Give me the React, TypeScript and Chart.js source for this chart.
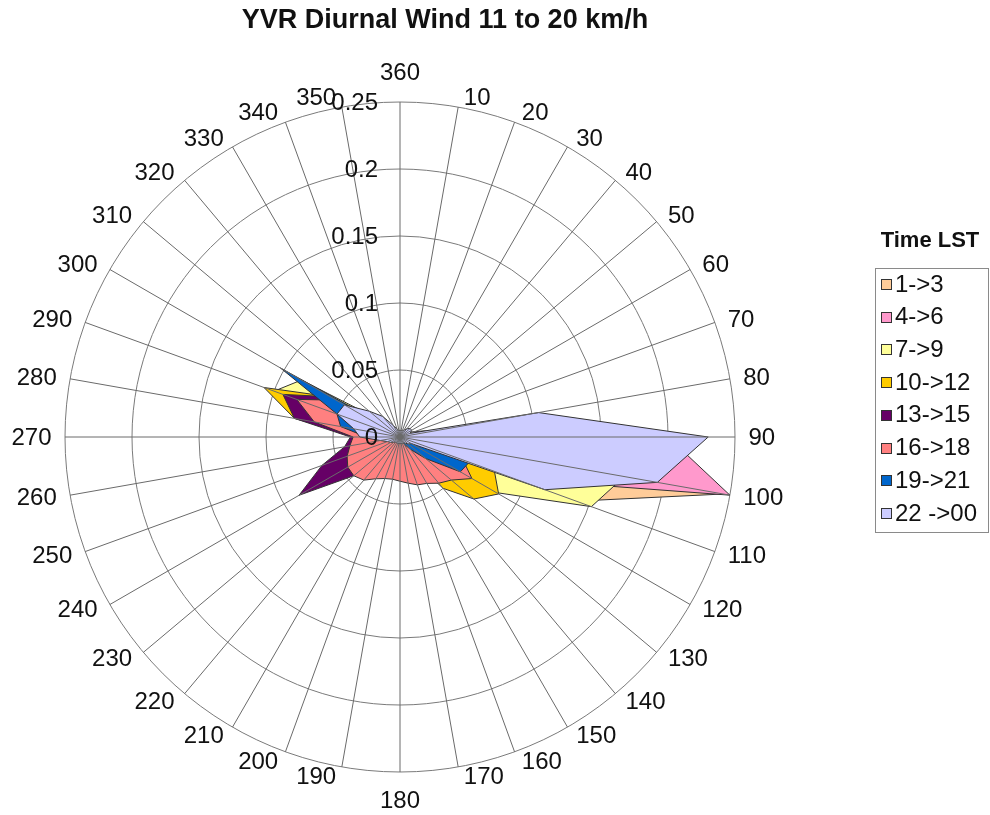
import React, { useEffect, useRef } from 'react';
import { Chart, registerables } from 'chart.js';

Chart.register(...registerables);

const chartTitle = 'YVR Diurnal Wind 11 to 20 km/h';
const legendTitle = 'Time LST';

const directionLabels = [
  '360', '10', '20', '30', '40', '50', '60', '70', '80', '90', '100', '110',
  '120', '130', '140', '150', '160', '170', '180', '190', '200', '210', '220', '230',
  '240', '250', '260', '270', '280', '290', '300', '310', '320', '330', '340', '350',
];

const tickValues = [0, 0.05, 0.1, 0.15, 0.2, 0.25];
const tickLabels = ['0', '0.05', '0.1', '0.15', '0.2', '0.25'];

const seriesNames = ['1->3', '4->6', '7->9', '10->12', '13->15', '16->18', '19->21', '22 ->00'];
const seriesColors = ['#FFCC99', '#FF99CC', '#FFFF99', '#FFCC00', '#660066', '#FF8080', '#0066CC', '#CCCCFF'];

// values per direction: 360, 10, 20, ... 350
const t01to03 = [0.003, 0.003, 0.003, 0.003, 0.003, 0.004, 0.005, 0.01, 0.03, 0.13, 0.245, 0.14,
  0.04, 0.02, 0.01, 0.005, 0.004, 0.003, 0.003, 0.003, 0.003, 0.003, 0.003, 0.003,
  0.003, 0.004, 0.006, 0.01, 0.015, 0.015, 0.01, 0.005, 0.003, 0.003, 0.003, 0.003];
const t04to06 = [0.003, 0.003, 0.003, 0.003, 0.003, 0.004, 0.006, 0.012, 0.03, 0.2, 0.25, 0.092,
  0.03, 0.015, 0.008, 0.005, 0.004, 0.003, 0.003, 0.003, 0.003, 0.003, 0.003, 0.003,
  0.004, 0.005, 0.008, 0.015, 0.02, 0.02, 0.012, 0.006, 0.003, 0.003, 0.003, 0.003];
const t07to09 = [0.003, 0.003, 0.003, 0.003, 0.004, 0.005, 0.006, 0.01, 0.025, 0.09, 0.17, 0.152,
  0.083, 0.045, 0.02, 0.01, 0.006, 0.004, 0.003, 0.003, 0.003, 0.003, 0.004, 0.005,
  0.006, 0.008, 0.015, 0.025, 0.06, 0.1, 0.085, 0.02, 0.008, 0.004, 0.003, 0.003];
const t10to12 = [0.003, 0.003, 0.003, 0.003, 0.003, 0.004, 0.005, 0.008, 0.012, 0.02, 0.04, 0.075,
  0.085, 0.072, 0.05, 0.02, 0.01, 0.005, 0.004, 0.003, 0.003, 0.003, 0.004, 0.006,
  0.01, 0.015, 0.02, 0.03, 0.08, 0.108, 0.06, 0.012, 0.005, 0.003, 0.003, 0.003];
const t13to15 = [0.003, 0.003, 0.003, 0.003, 0.003, 0.003, 0.003, 0.004, 0.006, 0.01, 0.015, 0.02,
  0.02, 0.015, 0.01, 0.006, 0.005, 0.004, 0.004, 0.005, 0.006, 0.01, 0.02, 0.045,
  0.087, 0.062, 0.042, 0.037, 0.08, 0.093, 0.06, 0.015, 0.006, 0.004, 0.003, 0.003];
const t16to18 = [0.003, 0.003, 0.003, 0.004, 0.005, 0.006, 0.008, 0.01, 0.012, 0.015, 0.025, 0.05,
  0.062, 0.05, 0.045, 0.04, 0.038, 0.035, 0.033, 0.032, 0.033, 0.036, 0.042, 0.045,
  0.045, 0.042, 0.038, 0.035, 0.065, 0.082, 0.055, 0.02, 0.01, 0.005, 0.004, 0.003];
const t19to21 = [0.003, 0.003, 0.003, 0.003, 0.004, 0.005, 0.006, 0.008, 0.015, 0.03, 0.045, 0.055,
  0.052, 0.025, 0.012, 0.006, 0.004, 0.003, 0.003, 0.003, 0.003, 0.003, 0.003, 0.004,
  0.005, 0.006, 0.01, 0.025, 0.045, 0.05, 0.103, 0.01, 0.005, 0.004, 0.003, 0.003];
const t22to00 = [0.005, 0.005, 0.005, 0.006, 0.008, 0.01, 0.01, 0.008, 0.105, 0.23, 0.195, 0.115,
  0.01, 0.008, 0.006, 0.005, 0.005, 0.005, 0.005, 0.005, 0.005, 0.005, 0.005, 0.006,
  0.008, 0.01, 0.015, 0.03, 0.035, 0.05, 0.048, 0.03, 0.02, 0.01, 0.006, 0.005];

const seriesValues = [t01to03, t04to06, t07to09, t10to12, t13to15, t16to18, t19to21, t22to00];

const FONT = "'Liberation Sans', Arial, Helvetica, sans-serif";

const overlayPlugin = {
  id: 'overlay',
  afterDatasetsDraw(chart: any) {
    const scale = chart.scales.r;
    const ctx = chart.ctx;
    ctx.save();
    // spokes drawn over the filled areas
    ctx.strokeStyle = '#6a6a6a';
    ctx.lineWidth = 1;
    for (let i = 0; i < directionLabels.length; i++) {
      const p = scale.getPointPosition(i, scale.drawingArea);
      ctx.beginPath();
      ctx.moveTo(scale.xCenter, scale.yCenter);
      ctx.lineTo(p.x, p.y);
      ctx.stroke();
    }
    ctx.fillStyle = '#111';
    // direction labels around the circle
    ctx.font = `24px ${FONT}`;
    ctx.textAlign = 'center';
    ctx.textBaseline = 'middle';
    for (let i = 0; i < directionLabels.length; i++) {
      const p = scale.getPointPosition(i, scale.drawingArea);
      const a = scale.getIndexAngle(i);
      const s = Math.sin(a);
      const c = Math.cos(a);
      const w = ctx.measureText(directionLabels[i]).width;
      let cx: number;
      let cy: number;
      if (Math.abs(s) < 0.01) {
        cx = p.x;
        cy = p.y + (c > 0 ? -30 : 28);
      } else {
        cx = p.x + Math.sign(s) * (w / 2 + 4 + 9.5 * Math.abs(s));
        cy = p.y - 10 * c;
      }
      ctx.fillText(directionLabels[i], cx, cy + 1);
    }
    // value axis labels
    ctx.textAlign = 'right';
    for (let i = 0; i < tickValues.length; i++) {
      const d = scale.getDistanceFromCenterForValue(tickValues[i]);
      ctx.fillText(tickLabels[i], scale.xCenter - 22, scale.yCenter - d + 1);
    }
    ctx.restore();
  },
  afterDraw(chart: any) {
    const ctx = chart.ctx;
    ctx.save();
    // title
    ctx.fillStyle = '#111';
    ctx.font = `bold 27px ${FONT}`;
    ctx.textAlign = 'center';
    ctx.textBaseline = 'middle';
    ctx.fillText(chartTitle, 445, 21);
    // legend
    ctx.font = `bold 22px ${FONT}`;
    ctx.fillText(legendTitle, 930, 241);
    ctx.strokeStyle = '#8a8a8a';
    ctx.lineWidth = 1;
    ctx.strokeRect(875.5, 268.5, 113, 264);
    ctx.font = `24px ${FONT}`;
    ctx.textAlign = 'left';
    for (let i = 0; i < seriesNames.length; i++) {
      const y = 284 + i * 32.7;
      ctx.fillStyle = seriesColors[i];
      ctx.fillRect(881, Math.round(y) - 5, 10, 10);
      ctx.strokeStyle = '#333';
      ctx.strokeRect(881.5, Math.round(y) - 4.5, 10, 10);
      ctx.fillStyle = '#111';
      ctx.fillText(seriesNames[i], 895, y + 1);
    }
    ctx.restore();
  },
};

export default function App() {
  const canvasRef = useRef<HTMLCanvasElement | null>(null);

  useEffect(() => {
    document.body.style.margin = '0';
    const canvas = canvasRef.current;
    if (!canvas) return;
    const chart = new Chart(canvas, {
      type: 'radar',
      data: {
        labels: directionLabels,
        datasets: seriesNames.map((name, i) => ({
          label: name,
          data: seriesValues[i],
          backgroundColor: seriesColors[i],
          borderColor: '#333333',
          borderWidth: 1,
          fill: true,
          pointRadius: 0,
          pointHoverRadius: 0,
          tension: 0,
          order: seriesNames.length - i,
        })),
      },
      options: {
        animation: false,
        responsive: true,
        maintainAspectRatio: false,
        devicePixelRatio: 1,
        layout: { padding: { top: 102, left: 65, right: 255, bottom: 43 } },
        plugins: {
          legend: { display: false },
          title: { display: false },
          tooltip: { enabled: false },
        },
        scales: {
          r: {
            min: 0,
            max: 0.25,
            startAngle: 0,
            ticks: { stepSize: 0.05, display: false },
            grid: { circular: true, color: '#7a7a7a', lineWidth: 1 },
            angleLines: { display: false },
            pointLabels: { display: false },
          },
        },
      },
      plugins: [overlayPlugin],
    });
    return () => chart.destroy();
  }, []);

  return (
    <div style={{ position: 'relative', width: 990, height: 815 }}>
      <canvas ref={canvasRef} />
    </div>
  );
}
